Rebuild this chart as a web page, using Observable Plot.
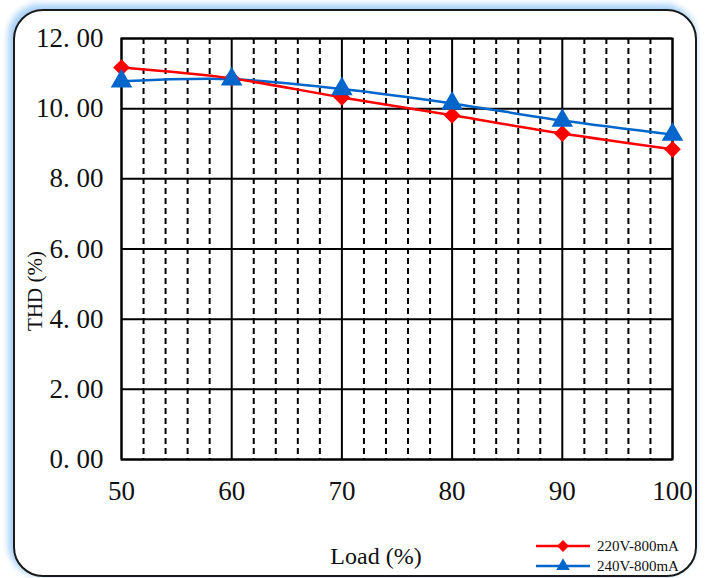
<!DOCTYPE html>
<html>
<head>
<meta charset="utf-8">
<script src="https://cdn.jsdelivr.net/npm/d3@7"></script>
<script src="https://cdn.jsdelivr.net/npm/@observablehq/plot@0.6"></script>
<style>
  body { margin: 0; background: #fff; }
  #wrap { position: relative; width: 705px; height: 578px; overflow: hidden; background: #fff; }
  #frame { position: absolute; left: 13px; top: 9px; width: 680px; height: 564px; border: 2px solid #1a1a1a; border-radius: 30px; box-shadow: -3px -3px 6px 2px #a9d1f7; background: #fff; }
  #chart { position: absolute; left: 0; top: 0; }
  .lbl { position: absolute; font-family: "Liberation Serif", "DejaVu Serif", serif; color: #111; }
  #ylab { left: 35px; top: 291px; transform: translate(-50%, -50%) rotate(-90deg); font-size: 21px; white-space: nowrap; }
  #xlab { left: 376px; top: 556px; transform: translate(-50%, -50%); font-size: 24px; white-space: nowrap; }
  #legend { position: absolute; left: 530px; top: 534px; }
</style>
</head>
<body>
<div id="wrap">
  <div id="frame"></div>
  <div id="chart"></div>
  <div class="lbl" id="ylab">THD (%)</div>
  <div class="lbl" id="xlab">Load (%)</div>
  <div id="legend"></div>
</div>
<script>
const load = [50, 60, 70, 80, 90, 100];
const thd220 = [11.17, 10.86, 10.32, 9.81, 9.29, 8.84];
const thd240 = [10.78, 10.84, 10.56, 10.15, 9.66, 9.26];
const seriesNames = ["220V-800mA", "240V-800mA"];
const seriesColors = ["#ff0000", "#0066cc"];
const xMajor = [50, 60, 70, 80, 90, 100];
const xMinor = [52, 54, 56, 58, 62, 64, 66, 68, 72, 74, 76, 78, 82, 84, 86, 88, 92, 94, 96, 98];
const yTicks = [0, 2, 4, 6, 8, 10, 12];

const d220 = load.map((x, i) => ({x, y: thd220[i]}));
const d240 = load.map((x, i) => ({x, y: thd240[i]}));
const fmtY = d => d.toFixed(2).replace(".", ". ");

const plot = Plot.plot({
  width: 705,
  height: 578,
  marginLeft: 121,
  marginRight: 33,
  marginTop: 38,
  marginBottom: 119,
  style: {background: "transparent", fontFamily: "'Liberation Serif', 'DejaVu Serif', serif", fontSize: "27px", color: "#111", overflow: "visible"},
  x: {domain: [50, 100], label: null},
  y: {domain: [0, 12], label: null},
  marks: [
    Plot.ruleX(xMinor, {stroke: "#000", strokeWidth: 2, strokeDasharray: "6,4"}),
    Plot.ruleX(xMajor, {stroke: "#000", strokeWidth: 2}),
    Plot.ruleY(yTicks, {stroke: "#000", strokeWidth: 2}),
    Plot.frame({stroke: "#000", strokeWidth: 2}),
    Plot.axisX({ticks: xMajor, tickSize: 0, tickPadding: 21, fontSize: 27, label: null}),
    Plot.axisY({ticks: yTicks, tickSize: 0, tickPadding: 18, fontSize: 27, tickFormat: fmtY, label: null}),
    Plot.line(d240, {x: "x", y: "y", stroke: seriesColors[1], strokeWidth: 2.5, curve: "catmull-rom"}),
    Plot.line(d220, {x: "x", y: "y", stroke: seriesColors[0], strokeWidth: 2.5, curve: "catmull-rom"}),
    Plot.dot(d220, {x: "x", y: "y", symbol: "diamond2", r: 7.5, fill: seriesColors[0], stroke: "none"}),
    Plot.dot(d240, {x: "x", y: "y", symbol: "triangle", r: 8, fill: seriesColors[1], stroke: "none"})
  ]
});
document.getElementById("chart").appendChild(plot);

// Legend
const lg = d3.select("#legend").append("svg").attr("width", 160).attr("height", 44);
const symbols = [d3.symbolDiamond2, d3.symbolTriangle];
seriesNames.forEach((name, i) => {
  const cy = 12 + i * 20;
  lg.append("line").attr("x1", 6).attr("x2", 60).attr("y1", cy).attr("y2", cy)
    .attr("stroke", seriesColors[i]).attr("stroke-width", 2.5);
  lg.append("path").attr("d", d3.symbol(symbols[i], i === 0 ? 90 : 80)())
    .attr("transform", `translate(33,${cy})`).attr("fill", seriesColors[i]);
  lg.append("text").attr("x", 67).attr("y", cy + 5).text(name)
    .attr("font-family", "'Liberation Serif', 'DejaVu Serif', serif").attr("font-size", 15).attr("fill", "#111");
});
</script>
</body>
</html>
